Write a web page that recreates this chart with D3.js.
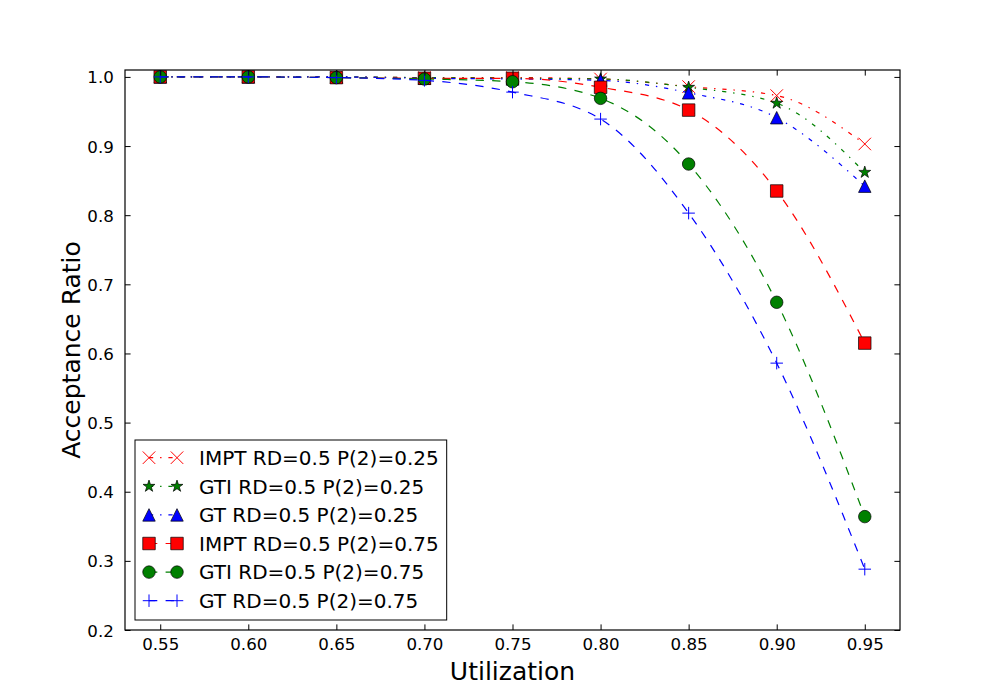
<!DOCTYPE html>
<html><head><meta charset="utf-8">
<script src="https://cdn.jsdelivr.net/npm/d3@7"></script>
<style>body{margin:0;background:#fff} text{font-family:"DejaVu Sans",sans-serif;fill:#000}</style>
</head><body><svg id="c" width="1000" height="700"></svg>
<script>
// ---- data ----
const utilization = [0.55, 0.60, 0.65, 0.70, 0.75, 0.80, 0.85, 0.90, 0.95];
const imptP025 = [1.000, 1.000, 1.000, 0.999, 0.999, 0.997, 0.986, 0.973, 0.903];
const gtiP025  = [1.000, 1.000, 1.000, 0.999, 0.998, 0.997, 0.985, 0.962, 0.862];
const gtP025   = [1.000, 1.000, 1.000, 0.998, 0.997, 0.995, 0.977, 0.941, 0.842];
const imptP075 = [1.000, 1.000, 0.999, 0.998, 0.998, 0.985, 0.952, 0.835, 0.615];
const gtiP075  = [1.000, 1.000, 0.999, 0.997, 0.993, 0.969, 0.874, 0.674, 0.364];
const gtP075   = [1.000, 1.000, 0.999, 0.995, 0.978, 0.939, 0.803, 0.586, 0.288];
const seriesLabels = ["IMPT RD=0.5 P(2)=0.25", "GTI RD=0.5 P(2)=0.25", "GT RD=0.5 P(2)=0.25",
                      "IMPT RD=0.5 P(2)=0.75", "GTI RD=0.5 P(2)=0.75", "GT RD=0.5 P(2)=0.75"];
const xTickValues = [0.55, 0.60, 0.65, 0.70, 0.75, 0.80, 0.85, 0.90, 0.95];
const yTickValues = [0.2, 0.3, 0.4, 0.5, 0.6, 0.7, 0.8, 0.9, 1.0];
const xLabel = "Utilization";
const yLabel = "Acceptance Ratio";

// ---- styles ----
const DASHDOT = "4.2,6.9,1.4,6.9", DASHED = "8.3,8.3";
const series = [
  {label: seriesLabels[0], values: imptP025, color: "#ff0000", marker: "x",        dash: DASHDOT},
  {label: seriesLabels[1], values: gtiP025,  color: "#008000", marker: "star",     dash: DASHDOT},
  {label: seriesLabels[2], values: gtP025,   color: "#0000ff", marker: "triangle", dash: DASHDOT},
  {label: seriesLabels[3], values: imptP075, color: "#ff0000", marker: "square",   dash: DASHED},
  {label: seriesLabels[4], values: gtiP075,  color: "#008000", marker: "circle",   dash: DASHED},
  {label: seriesLabels[5], values: gtP075,   color: "#0000ff", marker: "plus",     dash: DASHED}
];

const W = 1000, H = 700;
const M = {left: 125, right: 900, top: 70, bottom: 630};
const svg = d3.select("#c");
const x = d3.scaleLinear().domain([0.53, 0.97]).range([M.left, M.right]);
const y = d3.scaleLinear().domain([0.2, 1.01]).range([M.bottom, M.top]);

const MS = 12.5;
function markerPath(type, s) {
  const h = s / 2;
  switch (type) {
    case "square": return `M${-h},${-h}H${h}V${h}H${-h}Z`;
    case "circle": { const p = d3.path(); p.arc(0, 0, h, 0, 2 * Math.PI); p.closePath(); return p.toString(); }
    case "triangle": return `M0,${-h}L${h},${h}L${-h},${h}Z`;
    case "star": {
      const pts = [];
      for (let i = 0; i < 10; i++) {
        const r = i % 2 === 0 ? h : h * 0.381966;
        const a = -Math.PI / 2 + i * Math.PI / 5;
        pts.push([r * Math.cos(a), r * Math.sin(a)]);
      }
      return "M" + pts.map(p => p.join(",")).join("L") + "Z";
    }
    case "x": return `M${-h},${-h}L${h},${h}M${-h},${h}L${h},${-h}`;
    case "plus": return `M${-h},0H${h}M0,${-h}V${h}`;
  }
}
function drawMarker(g, type, color, tx, ty) {
  const filled = !(type === "x" || type === "plus");
  g.append("path").attr("d", markerPath(type, MS))
    .attr("transform", `translate(${tx},${ty})`)
    .attr("fill", filled ? color : "none")
    .attr("stroke", filled ? "#000" : color)
    .attr("stroke-width", filled ? 0.7 : 1);
}

svg.append("rect").attr("width", W).attr("height", H).attr("fill", "#fff");
svg.append("defs").append("clipPath").attr("id", "clip")
  .append("rect").attr("x", M.left).attr("y", M.top)
  .attr("width", M.right - M.left).attr("height", M.bottom - M.top);

const plot = svg.append("g").attr("clip-path", "url(#clip)");
const line = d3.line().x(d => x(d[0])).y(d => y(d[1])).curve(d3.curveMonotoneX);
series.forEach(s => {
  const pts = utilization.map((u, i) => [u, s.values[i]]);
  plot.append("path").attr("d", line(pts)).attr("fill", "none")
    .attr("stroke", s.color).attr("stroke-width", 1.2).attr("stroke-dasharray", s.dash);
  pts.forEach(p => drawMarker(plot, s.marker, s.color, x(p[0]), y(p[1])));
});

// ---- axes (inward ticks on all four sides) ----
const TL = 5.6;
const axB = svg.append("g").attr("transform", `translate(0,${M.bottom})`)
  .call(d3.axisBottom(x).tickValues(xTickValues).tickFormat(d3.format(".2f")).tickSizeInner(-TL).tickSizeOuter(0).tickPadding(TL + 8));
const axT = svg.append("g").attr("transform", `translate(0,${M.top})`)
  .call(d3.axisTop(x).tickValues(xTickValues).tickFormat("").tickSizeInner(-TL).tickSizeOuter(0));
const axL = svg.append("g").attr("transform", `translate(${M.left},0)`)
  .call(d3.axisLeft(y).tickValues(yTickValues).tickFormat(d3.format(".1f")).tickSizeInner(-TL).tickSizeOuter(0).tickPadding(TL + 5.6));
const axR = svg.append("g").attr("transform", `translate(${M.right},0)`)
  .call(d3.axisRight(y).tickValues(yTickValues).tickFormat("").tickSizeInner(-TL).tickSizeOuter(0));
[axB, axT, axL, axR].forEach(a => {
  a.select(".domain").remove();
  a.selectAll(".tick line").attr("stroke", "#000").attr("stroke-width", 1);
  a.selectAll("text").attr("font-family", "DejaVu Sans").attr("font-size", 16.67).attr("fill", "#000");
});
axB.selectAll("text").attr("dy", null).attr("y", 20);
axL.selectAll("text").attr("dy", "0.36em");

svg.append("rect").attr("x", M.left).attr("y", M.top)
  .attr("width", M.right - M.left).attr("height", M.bottom - M.top)
  .attr("fill", "none").attr("stroke", "#000").attr("stroke-width", 1.2);

svg.append("text").attr("x", (M.left + M.right) / 2).attr("y", 680)
  .attr("text-anchor", "middle").attr("font-size", 25).text(xLabel);
svg.append("text").attr("transform", `translate(80,${(M.top + M.bottom) / 2}) rotate(-90)`)
  .attr("text-anchor", "middle").attr("font-size", 25).text(yLabel);

// ---- legend ----
const FS = 20, LX = M.left + 10, LBOT = M.bottom - 10;
const rowStep = 28.6, firstRow = 457.7;
const lg = svg.append("g");
const box = lg.append("rect").attr("fill", "#fff").attr("stroke", "#000").attr("stroke-width", 1);
let maxW = 0;
series.forEach((s, i) => {
  const ry = firstRow + i * rowStep;
  const x0 = LX + 8 + 0.3 * FS, x1 = LX + 8 + 2 * FS - 0.3 * FS;
  lg.append("line").attr("x1", x0).attr("x2", x1).attr("y1", ry).attr("y2", ry)
    .attr("stroke", s.color).attr("stroke-width", 1.2).attr("stroke-dasharray", s.dash);
  drawMarker(lg, s.marker, s.color, x0, ry);
  drawMarker(lg, s.marker, s.color, x1, ry);
  const t = lg.append("text").attr("x", LX + 8 + 2 * FS + 0.8 * FS).attr("y", ry + 7.3)
    .attr("font-size", FS).text(s.label);
  maxW = Math.max(maxW, t.node().getComputedTextLength());
});
const legendTop = 440;
box.attr("x", LX).attr("y", legendTop)
  .attr("width", 8 + 2 * FS + 0.8 * FS + maxW + 8).attr("height", LBOT - legendTop);
</script></body></html>
